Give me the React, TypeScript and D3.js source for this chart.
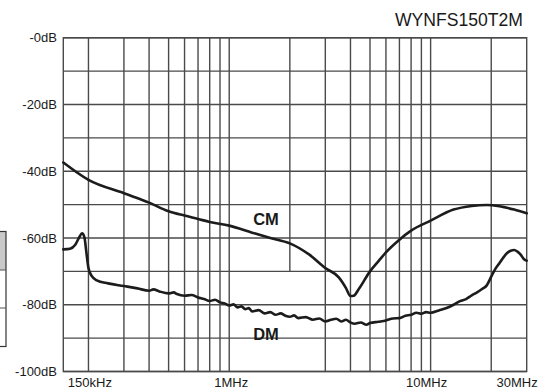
import React, { useRef, useEffect } from 'react';
import * as d3 from 'd3';

// frequencies in MHz, levels in dB
const cmFreq = [0.15, 0.2, 0.3, 0.4, 0.5, 0.6, 0.7, 0.8, 1.0, 1.3, 1.6, 2.0, 2.5, 3.0, 3.5, 3.8, 4.0, 4.15, 4.4, 5.0, 5.5, 6.0, 7.0, 8.0, 10, 13, 16, 19, 22, 26, 30];
const cmDb = [-37.4, -42.6, -46.6, -49.4, -52.0, -53.3, -54.3, -55.2, -56.3, -58.4, -60.0, -61.6, -65.0, -69.0, -71.8, -75.0, -77.4, -77.3, -75.3, -70.0, -67.0, -64.3, -60.5, -57.8, -54.8, -51.5, -50.4, -50.1, -50.5, -51.5, -52.6];

const dmFreq = [
  0.15, 0.162, 0.172, 0.18, 0.186, 0.191, 0.195, 0.2, 0.207, 0.22, 0.25, 0.3, 0.35, 0.4, 0.42, 0.45,
  0.5, 0.53, 0.55, 0.6, 0.65, 0.7, 0.75, 0.8, 0.85, 0.9, 0.95, 1.0, 1.05, 1.1, 1.15, 1.2, 1.25, 1.3,
  1.4, 1.5, 1.6, 1.7, 1.8, 1.9, 2.0, 2.1, 2.2, 2.4, 2.6, 2.8, 3.0, 3.2, 3.4, 3.6, 3.8, 4.0, 4.2,
  4.5, 4.8, 5.0, 5.5, 6.0, 6.5, 7.0, 7.5, 8.0, 8.5, 9.0, 9.5, 10, 11, 12, 13, 14, 15, 16, 17, 18,
  19, 20, 21, 22, 23, 24, 25, 26, 27, 28, 29, 30,
];
const dmDb = [
  -63.4, -63.2, -62.0, -59.8, -58.6, -59.8, -64.0, -69.0, -71.3, -72.7, -73.6, -74.4, -75.1, -75.8, -75.4, -76.0,
  -76.6, -76.3, -76.8, -77.3, -77.1, -77.8, -78.3, -78.9, -78.5, -79.3, -79.6, -80.2, -79.9, -80.8, -80.5, -81.3, -81.0, -82.0,
  -81.6, -82.6, -82.2, -83.0, -82.6, -83.3, -83.6, -83.2, -84.0, -83.7, -84.5, -84.1, -85.0, -84.5, -84.2, -85.0, -84.5, -85.3, -85.7,
  -85.3, -86.0, -85.5, -85.1, -84.7, -84.1, -84.0, -83.3, -83.0, -82.4, -82.7, -82.2, -82.4, -81.7, -81.0, -80.0, -78.9, -78.3, -77.2, -76.3, -75.3,
  -74.2, -71.6, -69.2, -67.5, -65.8, -64.5, -63.8, -63.6, -64.1, -65.0, -66.3, -66.8,
];

const gridFreqs = [0.2, 0.3, 0.4, 0.5, 0.6, 0.7, 0.8, 0.9, 1, 2, 3, 4, 5, 6, 7, 8, 9, 10, 20];
const dbTicks = [0, -10, -20, -30, -40, -50, -60, -70, -80, -90, -100];
const dbLabels = [0, -20, -40, -60, -80, -100];
const freqTickValues = [0.15, 1, 10, 30];
const freqTickLabels = ['150kHz', '1MHz', '10MHz', '30MHz'];

const FONT = '"Liberation Sans", Arial, Helvetica, sans-serif';

const App: React.FC = () => {
  const svgRef = useRef<SVGSVGElement | null>(null);

  useEffect(() => {
    const svg = d3.select(svgRef.current!);
    svg.selectAll('*').remove();

    const left = 63.3, right = 526.7, top = 37.7, bottom = 371.5;
    const x = d3.scaleLog().domain([0.15, 30]).range([left, right]);
    const y = d3.scaleLinear().domain([-100, 0]).range([bottom, top]);

    svg.append('rect').attr('width', 555).attr('height', 389).attr('fill', '#fff');

    // partial table at the left edge
    const tbl = svg.append('g');
    tbl.append('rect').attr('x', -2).attr('y', 231.5).attr('width', 8).attr('height', 38.5).attr('fill', '#c9c9c9');
    tbl.append('rect').attr('x', -2).attr('y', 231.5).attr('width', 8).attr('height', 115)
      .attr('fill', 'none').attr('stroke', '#333').attr('stroke-width', 1.2);
    [270, 308].forEach((yy) => {
      tbl.append('line').attr('x1', 0).attr('x2', 6).attr('y1', yy).attr('y2', yy)
        .attr('stroke', '#555').attr('stroke-width', 1);
    });

    const grid = svg.append('g').attr('stroke', '#4a4a4a').attr('stroke-width', 1.4);
    grid.selectAll('line.h').data(dbTicks).enter().append('line')
      .attr('x1', left).attr('x2', right)
      .attr('y1', (d) => y(d)).attr('y2', (d) => y(d));
    grid.selectAll('line.v').data(gridFreqs).enter().append('line')
      .attr('x1', (d) => x(d)).attr('x2', (d) => x(d))
      .attr('y1', top)
      .attr('y2', (d) => (d === 2 ? y(-70) : bottom));
    grid.append('rect').attr('x', left).attr('y', top)
      .attr('width', right - left).attr('height', bottom - top).attr('fill', 'none');

    const line = d3.line<[number, number]>()
      .x((d) => x(d[0]))
      .y((d) => y(d[1]))
      .curve(d3.curveMonotoneX);

    const curves = svg.append('g').attr('fill', 'none').attr('stroke', '#1c1c1c')
      .attr('stroke-width', 2.6).attr('stroke-linejoin', 'round').attr('stroke-linecap', 'round');
    curves.append('path').attr('d', line(cmFreq.map((f, i) => [f, cmDb[i]]))!);
    curves.append('path').attr('d', line(dmFreq.map((f, i) => [f, dmDb[i]]))!);

    // y labels
    svg.append('g').selectAll('text').data(dbLabels).enter().append('text')
      .attr('x', 57).attr('y', (d) => y(d)).attr('dy', '0.36em')
      .attr('text-anchor', 'end')
      .attr('font-family', FONT).attr('font-size', 13).attr('fill', '#1a1a1a')
      .text((d) => (d === 0 ? '-0dB' : `${d}dB`));

    // x labels
    svg.append('g').selectAll('text').data(freqTickValues).enter().append('text')
      .attr('x', (d, i) => (i === 0 ? x(d) + 4.5 : i === freqTickValues.length - 1 ? x(d) + 11 : x(d) + (i === 1 ? 2 : -4)))
      .attr('y', 387)
      .attr('text-anchor', (d, i) => (i === 0 ? 'start' : i === freqTickValues.length - 1 ? 'end' : 'middle'))
      .attr('font-family', FONT).attr('font-size', 13).attr('fill', '#1a1a1a')
      .text((d, i) => freqTickLabels[i]);

    // series labels
    svg.append('text').attr('x', 266).attr('y', 224.5).attr('text-anchor', 'middle')
      .attr('font-family', FONT).attr('font-size', 16.5).attr('font-weight', 'bold').attr('fill', '#1a1a1a')
      .text('CM');
    svg.append('text').attr('x', 266).attr('y', 340).attr('text-anchor', 'middle')
      .attr('font-family', FONT).attr('font-size', 16.5).attr('font-weight', 'bold').attr('fill', '#1a1a1a')
      .text('DM');

    svg.append('text').attr('x', 523).attr('y', 25.7).attr('text-anchor', 'end')
      .attr('font-family', FONT).attr('font-size', 19).attr('fill', '#1a1a1a')
      .attr('textLength', 128).attr('lengthAdjust', 'spacingAndGlyphs')
      .text('WYNFS150T2M');
  }, []);

  return (
    <svg
      ref={svgRef}
      width={555}
      height={389}
      style={{ position: 'fixed', left: 0, top: 0, display: 'block' }}
    />
  );
};

export default App;
